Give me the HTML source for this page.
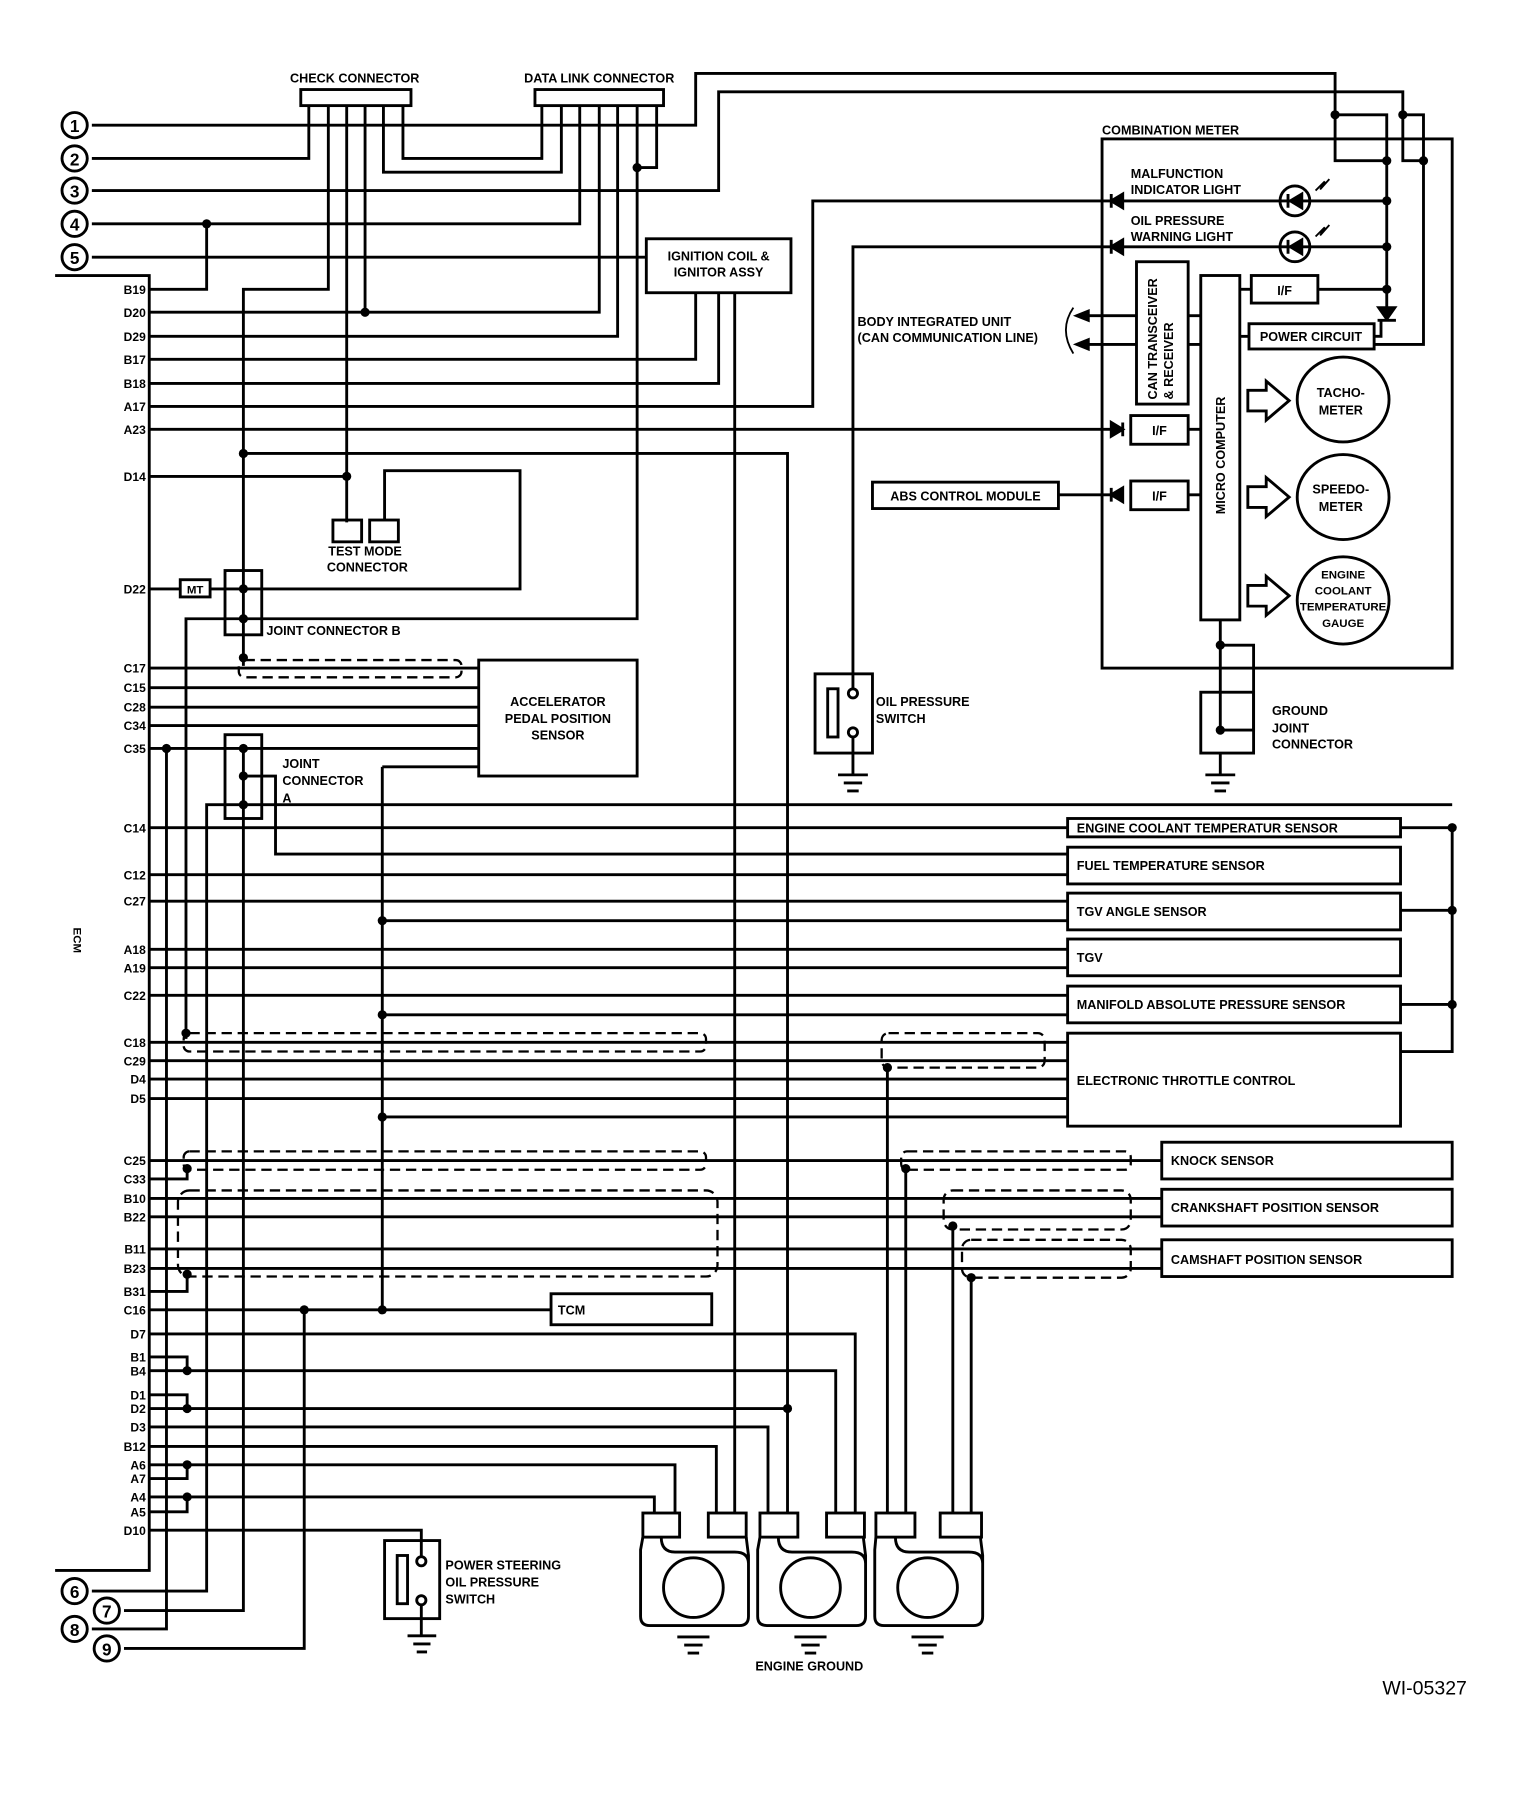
<!DOCTYPE html>
<html><head><meta charset="utf-8"><style>
html,body{margin:0;padding:0;background:#fff}
svg{display:block}
text{font-family:"Liberation Sans",Arial,sans-serif;font-weight:bold;font-size:11px;fill:#000}
.p{font-size:10.5px;text-anchor:end}
.n{font-size:15px;text-anchor:middle}
</style></head><body>
<svg width="1536" height="1800" viewBox="0 0 1338 1568" xmlns="http://www.w3.org/2000/svg">
<g fill="none" stroke="#000" stroke-width="2.5">
<path d="M48 240H130V1368H48"/>
<rect x="262" y="78" width="96" height="14"/>
<rect x="466" y="78" width="112" height="14"/>
<path d="M80 109H606V64H1163V140H1208"/>
<path d="M80 138H269V92"/>
<path d="M80 166H626V80H1222V140H1240V300H1197"/>
<path d="M1163 100H1208V268"/>
<path d="M1222 100H1240V140"/>
<path d="M80 195H505V92"/>
<path d="M80 224H563"/>
<path d="M286 92V252H212V580"/>
<path d="M302 92V455"/>
<path d="M318 92V272"/>
<path d="M334 92V150H489V92"/>
<path d="M351 92V138H472V92"/>
<path d="M522 92V272H130"/>
<path d="M538 92V293H130"/>
<path d="M555 92V539H162V905"/>
<path d="M572 92V146H555"/>
<path d="M130 252H180V195"/>
<rect x="563" y="208" width="126" height="47"/>
<path d="M606 255V313H130M626 255V334H130M640 255V1318"/>
<path d="M130 354H708V175H970"/>
<path d="M130 374H970"/>
<path d="M212 395H686V1318"/>
<path d="M130 415H302"/>
<rect x="290" y="453" width="25" height="19"/><rect x="322" y="453" width="25" height="19"/>
<path d="M335 453V410H453V513H130"/>
<rect x="157" y="505" width="26" height="15" fill="#fff"/>
<rect x="196" y="497" width="32" height="56"/>
<rect x="196" y="640" width="32" height="73"/>
<rect x="417" y="575" width="138" height="101"/>
<path d="M130 582H417M130 599H417M130 616H417M130 632H417M130 652H417M333 668H417M333 668V1141"/>
<path d="M145 652V1419H80"/>
<path d="M212 652V1403H108"/>
<path d="M212 676H240V744H930"/>
<path d="M1265 701H180V1386H80"/>
<path d="M130 721H930M130 762H930M130 785H930M333 802H930M130 827H930M130 843H930M130 867H930M333 884H930M130 908H930M130 924H930M130 940H930M130 957H930M333 973H930"/>
<rect x="930" y="713" width="290" height="16"/>
<rect x="930" y="738" width="290" height="32"/>
<rect x="930" y="778" width="290" height="32"/>
<rect x="930" y="818" width="290" height="32"/>
<rect x="930" y="859" width="290" height="32"/>
<rect x="930" y="900" width="290" height="81"/>
<path d="M1220 721H1265V916H1220M1220 793H1265M1220 875H1265"/>
<path d="M130 1011H1012M130 1044H1012M130 1060H1012M130 1088H1012M130 1105H1012"/>
<path d="M130 1027H163V1018M130 1125H163V1110"/>
<rect x="1012" y="995" width="253" height="32"/>
<rect x="1012" y="1036" width="253" height="32"/>
<rect x="1012" y="1080" width="253" height="32"/>
<path d="M130 1141H480"/><rect x="480" y="1127" width="140" height="27"/>
<path d="M265 1141V1436H108"/>
<path d="M130 1162H745V1318M130 1182H163V1194M130 1194H728V1318M130 1215H163V1227M130 1227H686M130 1243H669V1318M130 1260H624V1318M130 1276H588V1318M130 1288H163V1276M130 1304H570V1318M130 1317H163V1304M130 1333H367V1355"/>
<path d="M773 930V1318M789 1018V1318M830 1068V1318M846 1113V1318"/>
<g stroke-dasharray="9,5" stroke-width="2">
<rect x="208" y="575" width="194" height="15" rx="5"/>
<rect x="160" y="900" width="455" height="16" rx="5"/>
<rect x="768" y="900" width="142" height="30" rx="6"/>
<rect x="160" y="1003" width="455" height="16" rx="5"/>
<rect x="155" y="1037" width="470" height="75" rx="10"/>
<rect x="785" y="1003" width="200" height="16" rx="5"/>
<rect x="822" y="1037" width="163" height="34" rx="8"/>
<rect x="838" y="1080" width="147" height="33" rx="8"/>
</g>
<g>
<rect x="560" y="1318" width="32" height="21"/><rect x="617" y="1318" width="33" height="21"/>
<rect x="662" y="1318" width="33" height="21"/><rect x="720" y="1318" width="33" height="21"/>
<rect x="763" y="1318" width="34" height="21"/><rect x="819" y="1318" width="36" height="21"/>
<path d="M560 1339L558 1350V1408Q558 1416 566 1416H644Q652 1416 652 1408V1355L650 1339M576 1339Q576 1352 588 1352H640Q652 1352 652 1362"/>
<path d="M662 1339L660 1350V1408Q660 1416 668 1416H746Q754 1416 754 1408V1355L752 1339M678 1339Q678 1352 690 1352H742Q754 1352 754 1362"/>
<path d="M763 1339L762 1350V1408Q762 1416 770 1416H848Q856 1416 856 1408V1355L854 1339M780 1339Q780 1352 792 1352H844Q856 1352 856 1362"/>
<ellipse cx="604" cy="1383" rx="26" ry="26"/><ellipse cx="706" cy="1383" rx="26" ry="26"/><ellipse cx="808" cy="1383" rx="26" ry="26"/>
<path d="M590 1426H618M596 1433H612M599 1440H609M692 1426H720M698 1433H714M701 1440H711M794 1426H822M800 1433H816M803 1440H813"/>
</g>
<rect x="335" y="1342" width="48" height="68"/><rect x="346" y="1355" width="9" height="42"/>
<circle cx="367" cy="1360" r="4"/><circle cx="367" cy="1394" r="4"/>
<path d="M367 1398V1425M355 1425H380M360 1432H375M363 1439H372"/>
<path d="M970 215H743V600"/>
<rect x="710" y="587" width="50" height="69"/><rect x="721" y="600" width="9" height="42"/>
<circle cx="743" cy="604" r="4"/><circle cx="743" cy="638" r="4"/>
<path d="M743 642V675M730 675H756M735 682H751M738 689H748"/>
<rect x="960" y="121" width="305" height="461"/>
<path d="M970 175H1208M970 215H1208M1148 252H1208M1197 293H1203V278"/>
<path d="M1201 268H1215L1208 278Z M1200 279H1216" fill="#000"/>
<path d="M978 169V181L968 175Z M978 209V221L968 215Z" fill="#000"/>
<path d="M968 169V181M968 209V221"/>
<circle cx="1128" cy="175" r="13"/><circle cx="1128" cy="215" r="13"/>
<path d="M1134 169V181L1124 175Z M1134 209V221L1124 215Z" fill="#000"/>
<path d="M1122 169V181M1122 209V221"/>
<path d="M1146 166L1154 158L1150 165L1158 156M1146 206L1154 198L1150 205L1158 196" stroke-width="1.6"/>
<rect x="990" y="228" width="45" height="124"/>
<rect x="1046" y="240" width="34" height="300"/>
<rect x="1090" y="240" width="58" height="24"/><path d="M1080 252H1090"/>
<rect x="1088" y="282" width="109" height="22"/><path d="M1080 293H1088"/>
<path d="M1035 275H1046M1035 300H1046M990 275H938M990 300H938"/>
<path d="M938 275l10 -4v8z M938 300l10 -4v8z" fill="#000"/>
<path d="M935 268Q922 287 935 308" stroke-width="1.6"/>
<rect x="985" y="362" width="50" height="25"/><rect x="985" y="419" width="50" height="25"/>
<path d="M1035 374H1046M1035 431H1046M922 431H970"/>
<path d="M968 368V380L978 374Z M978 425V437L968 431Z" fill="#000"/>
<path d="M978 368V380M968 425V437"/>
<rect x="760" y="420" width="162" height="23"/>
<path d="M1087 340h16v-8l20 17l-20 17v-8h-16z M1087 424h16v-8l20 17l-20 17v-8h-16z M1087 510h16v-8l20 17l-20 17v-8h-16z"/>
<ellipse cx="1170" cy="348" rx="40" ry="37"/><ellipse cx="1170" cy="433" rx="40" ry="37"/><ellipse cx="1170" cy="523" rx="40" ry="38"/>
<path d="M1063 540V636M1063 562H1092V636H1063"/>
<rect x="1046" y="603" width="46" height="53"/>
<path d="M1063 656V675M1050 675H1076M1055 682H1071M1058 689H1068"/>
</g>
<g fill="#000">
<circle cx="180" cy="195" r="4"/><circle cx="318" cy="272" r="4"/><circle cx="555" cy="146" r="4"/>
<circle cx="212" cy="395" r="4"/><circle cx="302" cy="415" r="4"/><circle cx="212" cy="513" r="4"/>
<circle cx="212" cy="539" r="4"/><circle cx="212" cy="573" r="4"/><circle cx="145" cy="652" r="4"/>
<circle cx="212" cy="652" r="4"/><circle cx="212" cy="676" r="4"/><circle cx="212" cy="701" r="4"/>
<circle cx="333" cy="802" r="4"/><circle cx="333" cy="884" r="4"/><circle cx="333" cy="973" r="4"/><circle cx="333" cy="1141" r="4"/>
<circle cx="265" cy="1141" r="4"/><circle cx="162" cy="900" r="4"/><circle cx="163" cy="1018" r="4"/><circle cx="163" cy="1110" r="4"/>
<circle cx="163" cy="1194" r="4"/><circle cx="163" cy="1227" r="4"/><circle cx="163" cy="1276" r="4"/><circle cx="163" cy="1304" r="4"/>
<circle cx="686" cy="1227" r="4"/><circle cx="773" cy="930" r="4"/><circle cx="789" cy="1018" r="4"/><circle cx="830" cy="1068" r="4"/><circle cx="846" cy="1113" r="4"/>
<circle cx="1265" cy="721" r="4"/><circle cx="1265" cy="793" r="4"/><circle cx="1265" cy="875" r="4"/>
<circle cx="1163" cy="100" r="4"/><circle cx="1222" cy="100" r="4"/><circle cx="1208" cy="140" r="4"/><circle cx="1240" cy="140" r="4"/>
<circle cx="1208" cy="175" r="4"/><circle cx="1208" cy="215" r="4"/><circle cx="1208" cy="252" r="4"/>
<circle cx="1063" cy="562" r="4"/><circle cx="1063" cy="636" r="4"/>
</g>
<g fill="#fff" stroke="#000" stroke-width="2.5">
<circle cx="65" cy="109" r="11"/><circle cx="65" cy="138" r="11"/><circle cx="65" cy="166" r="11"/><circle cx="65" cy="195" r="11"/><circle cx="65" cy="224" r="11"/>
<circle cx="65" cy="1386" r="11"/><circle cx="93" cy="1403" r="11"/><circle cx="65" cy="1419" r="11"/><circle cx="93" cy="1436" r="11"/>
</g>
<text class="n" x="65" y="115">1</text><text class="n" x="65" y="144">2</text><text class="n" x="65" y="172">3</text><text class="n" x="65" y="201">4</text><text class="n" x="65" y="230">5</text>
<text class="n" x="65" y="1392">6</text><text class="n" x="93" y="1409">7</text><text class="n" x="65" y="1425">8</text><text class="n" x="93" y="1442">9</text>
<text class="p" x="127" y="256">B19</text><text class="p" x="127" y="276">D20</text><text class="p" x="127" y="297">D29</text><text class="p" x="127" y="317">B17</text><text class="p" x="127" y="338">B18</text><text class="p" x="127" y="358">A17</text><text class="p" x="127" y="378">A23</text><text class="p" x="127" y="419">D14</text><text class="p" x="127" y="517">D22</text>
<text class="p" x="127" y="586">C17</text><text class="p" x="127" y="603">C15</text><text class="p" x="127" y="620">C28</text><text class="p" x="127" y="636">C34</text><text class="p" x="127" y="656">C35</text><text class="p" x="127" y="725">C14</text><text class="p" x="127" y="766">C12</text><text class="p" x="127" y="789">C27</text>
<text class="p" x="127" y="831">A18</text><text class="p" x="127" y="847">A19</text><text class="p" x="127" y="871">C22</text><text class="p" x="127" y="912">C18</text><text class="p" x="127" y="928">C29</text><text class="p" x="127" y="944">D4</text><text class="p" x="127" y="961">D5</text>
<text class="p" x="127" y="1015">C25</text><text class="p" x="127" y="1031">C33</text><text class="p" x="127" y="1048">B10</text><text class="p" x="127" y="1064">B22</text><text class="p" x="127" y="1092">B11</text><text class="p" x="127" y="1109">B23</text><text class="p" x="127" y="1129">B31</text><text class="p" x="127" y="1145">C16</text>
<text class="p" x="127" y="1166">D7</text><text class="p" x="127" y="1186">B1</text><text class="p" x="127" y="1198">B4</text><text class="p" x="127" y="1219">D1</text><text class="p" x="127" y="1231">D2</text><text class="p" x="127" y="1247">D3</text><text class="p" x="127" y="1264">B12</text>
<text class="p" x="127" y="1280">A6</text><text class="p" x="127" y="1292">A7</text><text class="p" x="127" y="1308">A4</text><text class="p" x="127" y="1321">A5</text><text class="p" x="127" y="1337">D10</text>
<text x="76" y="820" transform="rotate(90 76 808)" style="font-size:10px">ECM</text>
<text x="309" y="72" text-anchor="middle">CHECK CONNECTOR</text>
<text x="522" y="72" text-anchor="middle">DATA LINK CONNECTOR</text>
<text x="626" y="227" text-anchor="middle">IGNITION COIL &amp;</text>
<text x="626" y="241" text-anchor="middle">IGNITOR ASSY</text>
<text x="318" y="484" text-anchor="middle">TEST MODE</text><text x="320" y="498" text-anchor="middle">CONNECTOR</text>
<text x="170" y="517" text-anchor="middle" style="font-size:10px">MT</text>
<text x="232" y="553">JOINT CONNECTOR B</text>
<text x="486" y="615" text-anchor="middle">ACCELERATOR</text><text x="486" y="630" text-anchor="middle">PEDAL POSITION</text><text x="486" y="644" text-anchor="middle">SENSOR</text>
<text x="246" y="669">JOINT</text><text x="246" y="684">CONNECTOR</text><text x="246" y="699">A</text>
<text x="938" y="725">ENGINE COOLANT TEMPERATUR SENSOR</text>
<text x="938" y="758">FUEL TEMPERATURE SENSOR</text>
<text x="938" y="798">TGV ANGLE SENSOR</text>
<text x="938" y="838">TGV</text>
<text x="938" y="879">MANIFOLD ABSOLUTE PRESSURE SENSOR</text>
<text x="938" y="945">ELECTRONIC THROTTLE CONTROL</text>
<text x="1020" y="1015">KNOCK SENSOR</text>
<text x="1020" y="1056">CRANKSHAFT POSITION SENSOR</text>
<text x="1020" y="1101">CAMSHAFT POSITION SENSOR</text>
<text x="486" y="1145">TCM</text>
<text x="388" y="1367">POWER STEERING</text><text x="388" y="1382">OIL PRESSURE</text><text x="388" y="1397">SWITCH</text>
<text x="705" y="1455" text-anchor="middle">ENGINE GROUND</text>
<text x="763" y="615">OIL PRESSURE</text><text x="763" y="630">SWITCH</text>
<text x="1108" y="623">GROUND</text><text x="1108" y="638">JOINT</text><text x="1108" y="652">CONNECTOR</text>
<text x="960" y="117">COMBINATION METER</text>
<text x="985" y="155">MALFUNCTION</text><text x="985" y="169">INDICATOR LIGHT</text>
<text x="985" y="196">OIL PRESSURE</text><text x="985" y="210">WARNING LIGHT</text>
<text x="747" y="284">BODY INTEGRATED UNIT</text><text x="747" y="298">(CAN COMMUNICATION LINE)</text>
<text x="1008" y="348" transform="rotate(-90 1008 348)">CAN TRANSCEIVER</text>
<text x="1022" y="348" transform="rotate(-90 1022 348)">&amp; RECEIVER</text>
<text x="1067" y="448" transform="rotate(-90 1067 448)">MICRO COMPUTER</text>
<text x="1119" y="257" text-anchor="middle">I/F</text>
<text x="1142" y="297" text-anchor="middle">POWER CIRCUIT</text>
<text x="1010" y="379" text-anchor="middle">I/F</text><text x="1010" y="436" text-anchor="middle">I/F</text>
<text x="841" y="436" text-anchor="middle">ABS CONTROL MODULE</text>
<text x="1168" y="346" text-anchor="middle">TACHO-</text><text x="1168" y="361" text-anchor="middle">METER</text>
<text x="1168" y="430" text-anchor="middle">SPEEDO-</text><text x="1168" y="445" text-anchor="middle">METER</text>
<text x="1170" y="504" text-anchor="middle" style="font-size:10px">ENGINE</text><text x="1170" y="518" text-anchor="middle" style="font-size:10px">COOLANT</text><text x="1170" y="532" text-anchor="middle" style="font-size:10px">TEMPERATURE</text><text x="1170" y="546" text-anchor="middle" style="font-size:10px">GAUGE</text>
<text x="1241" y="1476" text-anchor="middle" style="font-size:17px;font-weight:normal">WI-05327</text>
</svg>
</body></html>
